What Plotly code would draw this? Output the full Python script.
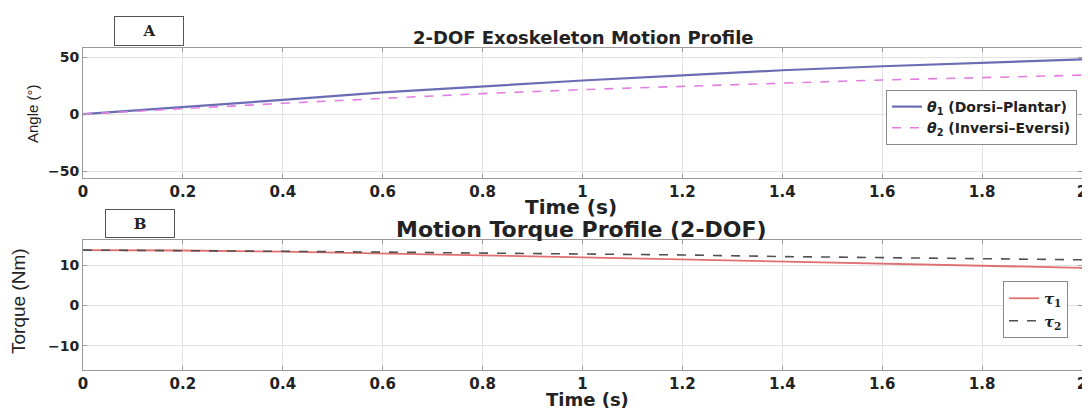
import plotly.graph_objects as go

# ---- data ----
time_s = [0.0, 0.2, 0.4, 0.6, 0.8, 1.0, 1.2, 1.4, 1.6, 1.8, 2.0]
theta1 = [0.0, 6.0, 12.5, 19.0, 24.5, 29.5, 34.0, 38.5, 42.0, 45.0, 48.0]
theta2 = [0.0, 5.0, 9.5, 13.8, 18.0, 21.5, 24.5, 27.5, 30.0, 32.0, 34.2]
tau1 = [13.7, 13.6, 13.3, 12.9, 12.4, 11.9, 11.4, 10.8, 10.3, 9.8, 9.3]
tau2 = [13.7, 13.6, 13.4, 13.2, 13.0, 12.8, 12.5, 12.1, 11.8, 11.5, 11.3]
x_ticks = [0, 0.2, 0.4, 0.6, 0.8, 1, 1.2, 1.4, 1.6, 1.8, 2]
x_ticklabels = ["0", "0.2", "0.4", "0.6", "0.8", "1", "1.2", "1.4", "1.6", "1.8", "2"]
angle_ticks = [-50, 0, 50]
torque_ticks = [-10, 0, 10]

# page body has an 8px margin; figure is sized so it fills the 1090x408 window
OFF = 8
W, H = 1090 - OFF, 408 - OFF
def px(x): return (x - OFF) / W
def py(y): return 1 - (y - OFF) / H

fig = go.Figure()
fig.add_trace(go.Scatter(x=time_s, y=theta1, mode="lines", xaxis="x", yaxis="y",
                         line=dict(color="#6a6db3", width=2.2),
                         name="<i>θ</i><sub>1</sub> (Dorsi–Plantar)", legend="legend"))
fig.add_trace(go.Scatter(x=time_s, y=theta2, mode="lines", xaxis="x", yaxis="y",
                         line=dict(color="#e27ee2", width=1.6, dash="dash"),
                         name="<i>θ</i><sub>2</sub> (Inversi–Eversi)", legend="legend"))
fig.add_trace(go.Scatter(x=time_s, y=tau1, mode="lines", xaxis="x2", yaxis="y2",
                         line=dict(color="#e07070", width=1.8),
                         name="<i>τ</i><sub>1</sub>", legend="legend2"))
fig.add_trace(go.Scatter(x=time_s, y=tau2, mode="lines", xaxis="x2", yaxis="y2",
                         line=dict(color="#505050", width=1.6, dash="dash"),
                         name="<i>τ</i><sub>2</sub>", legend="legend2"))

xtickfont = dict(family="DejaVu Sans", size=15, color="#222", weight="bold")
ytickfont = dict(family="DejaVu Sans", size=14, color="#222", weight="bold")
axcommon = dict(showline=True, linecolor="#9a9a9a", linewidth=1, mirror="ticks",
                ticks="inside", ticklen=4, tickcolor="#9a9a9a", automargin=False,
                showgrid=True, gridcolor="#e2e2e2", gridwidth=1, zeroline=False)

fig.update_layout(
    width=W, height=H, margin=dict(l=0, r=0, t=0, b=0, autoexpand=False),
    paper_bgcolor="white", plot_bgcolor="white",
    xaxis=dict(domain=[px(83), px(1082)], anchor="y", range=[0, 2],
               tickvals=x_ticks, ticktext=x_ticklabels, tickfont=xtickfont, **axcommon),
    yaxis=dict(domain=[py(178), py(48)], anchor="x", range=[-56, 58],
               tickvals=angle_ticks, tickfont=ytickfont, **axcommon),
    xaxis2=dict(domain=[px(83), px(1082)], anchor="y2", range=[0, 2],
                tickvals=x_ticks, ticktext=x_ticklabels, tickfont=xtickfont, **axcommon),
    yaxis2=dict(domain=[py(370), py(240)], anchor="x2", range=[-16, 16.2],
                tickvals=torque_ticks, tickfont=ytickfont, **axcommon),
    legend=dict(x=px(1077), y=py(90), xanchor="right", yanchor="top",
                bgcolor="white", bordercolor="#8a8a8a", borderwidth=1,
                font=dict(family="DejaVu Sans", size=14, color="#222", weight="bold"),
                tracegroupgap=0, itemwidth=30),
    legend2=dict(x=px(1068), y=py(281), xanchor="right", yanchor="top",
                 bgcolor="white", bordercolor="#8a8a8a", borderwidth=1,
                 font=dict(family="DejaVu Serif", size=15, color="#222", weight="bold"),
                 tracegroupgap=0, itemwidth=30),
    showlegend=True,
)

def note(text, x, y, size, family="DejaVu Sans", **kw):
    d = dict(text=text, x=px(x), y=py(y), xref="paper", yref="paper",
             xanchor="center", yanchor="middle", showarrow=False,
             font=dict(family=family, size=size, color="#222"))
    d.update(kw)
    return d

ann = [
    note("<b>2-DOF Exoskeleton Motion Profile</b>", 583, 38, 18),
    note("<b>Motion Torque Profile (2-DOF)</b>", 581, 229, 22),
    note("<b>Time (s)</b>", 571, 207, 20),
    note("<b>Time (s)</b>", 587, 399, 18),
    note("Angle (°)", 32, 114, 15, family="Liberation Sans", textangle=-90),
    note("Torque (Nm)", 18, 301, 19, family="Liberation Sans", textangle=-90),
    note("<b>A</b>", 148.5, 30.5, 15, family="DejaVu Serif", width=66, height=26,
         bordercolor="#555", borderwidth=1, bgcolor="white"),
    note("<b>B</b>", 140, 223, 15, family="DejaVu Serif", width=66, height=25,
         bordercolor="#555", borderwidth=1, bgcolor="white"),
]
fig.update_layout(annotations=ann)

fig.write_html("out.html")
